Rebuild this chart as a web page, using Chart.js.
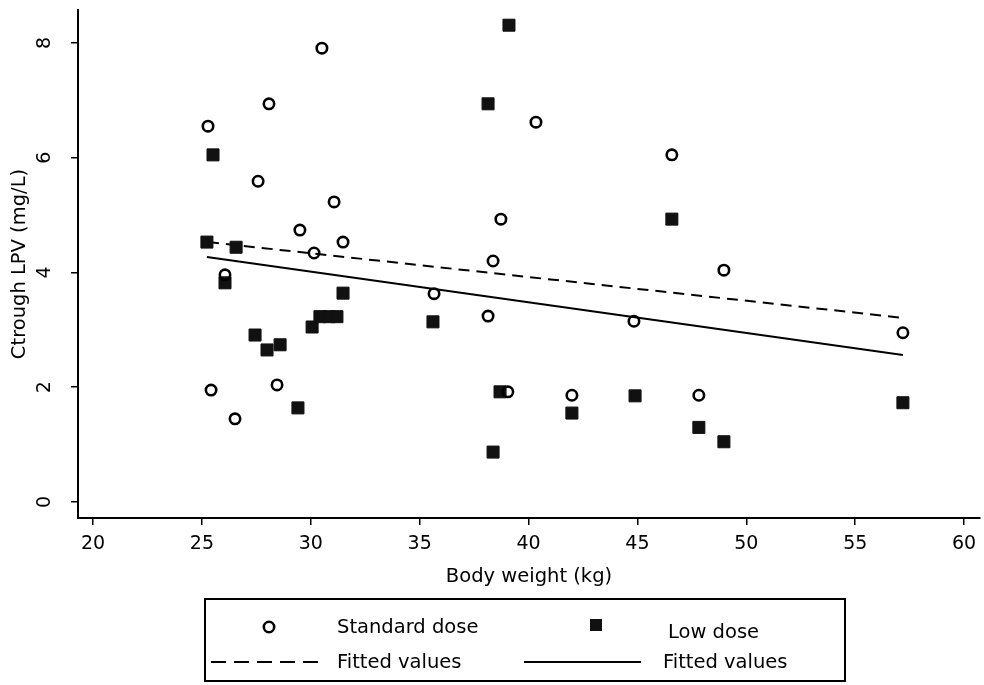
<!DOCTYPE html>
<html><head><meta charset="utf-8">
<script src="https://cdn.jsdelivr.net/npm/chart.js@4/dist/chart.umd.min.js"></script>
<style>html,body{margin:0;padding:0;background:#fff;}canvas{display:block}</style>
</head><body>
<canvas id="c" width="984" height="685"></canvas>
<script>
// ---- data ----
const standardWeight = [25.28, 28.08, 30.51, 40.34, 27.58, 31.07, 46.58, 38.73, 29.5, 31.48, 30.15, 38.37, 48.97, 26.06, 35.66, 38.14, 44.84, 57.19, 25.42, 28.45, 26.52, 39.05, 41.99, 47.82];
const standardLPV    = [6.55, 6.94, 7.91, 6.62, 5.59, 5.23, 6.05, 4.93, 4.74, 4.53, 4.34, 4.2, 4.04, 3.96, 3.63, 3.24, 3.15, 2.95, 1.95, 2.04, 1.45, 1.92, 1.86, 1.86];
const lowWeight = [39.1, 38.14, 25.51, 46.58, 25.23, 26.57, 26.06, 31.48, 27.44, 27.99, 28.59, 30.06, 30.42, 30.84, 31.2, 35.61, 29.41, 38.69, 38.37, 44.89, 41.99, 47.82, 48.97, 57.19];
const lowLPV    = [8.31, 6.94, 6.05, 4.93, 4.53, 4.44, 3.82, 3.64, 2.91, 2.65, 2.74, 3.05, 3.23, 3.23, 3.23, 3.14, 1.64, 1.92, 0.87, 1.85, 1.55, 1.3, 1.05, 1.73];
const fitStandardWeight = [25.28, 57.19];
const fitStandardLPV    = [4.53, 3.21];
const fitLowWeight = [25.23, 57.19];
const fitLowLPV    = [4.27, 2.56];
const xTickValues = [20, 25, 30, 35, 40, 45, 50, 55, 60];
const yTickValues = [0, 2, 4, 6, 8];
const seriesLabels = ['Standard dose', 'Low dose', 'Fitted values', 'Fitted values'];
const xTitle = 'Body weight (kg)';
const yTitle = 'Ctrough LPV (mg/L)';

const pts = (xs, ys) => xs.map((x, i) => ({x: x, y: ys[i]}));
const FONT = 'DejaVu Sans';

const legendPlugin = {
  id: 'stataLegend',
  afterDraw(chart) {
    const ctx = chart.ctx;
    const ds = chart.data.datasets;
    ctx.save();
    ctx.strokeStyle = '#000';
    ctx.lineWidth = 2;
    ctx.strokeRect(205, 599, 640, 82);
    ctx.font = '19.5px "' + FONT + '"';
    ctx.fillStyle = '#000';
    ctx.textBaseline = 'middle';
    ctx.textAlign = 'left';
    // row 1
    ctx.beginPath();
    ctx.lineWidth = ds[0].pointBorderWidth;
    ctx.arc(269, 627, ds[0].pointRadius, 0, Math.PI * 2);
    ctx.stroke();
    ctx.fillText(ds[0].label, 337, 628);
    ctx.fillStyle = ds[1].pointBackgroundColor;
    ctx.fillRect(590, 619, 12, 12);
    ctx.fillStyle = '#000';
    ctx.fillText(ds[1].label, 668, 633);
    // row 2
    ctx.lineWidth = ds[2].borderWidth;
    ctx.setLineDash([15, 8]);
    ctx.beginPath(); ctx.moveTo(211, 662); ctx.lineTo(324, 662); ctx.stroke();
    ctx.setLineDash([]);
    ctx.fillText(ds[2].label, 337, 663);
    ctx.lineWidth = ds[3].borderWidth;
    ctx.beginPath(); ctx.moveTo(524, 662); ctx.lineTo(641, 662); ctx.stroke();
    ctx.fillText(ds[3].label, 663, 663);
    ctx.restore();
  }
};

new Chart(document.getElementById('c'), {
  type: 'scatter',
  data: {
    datasets: [
      { label: seriesLabels[0], data: pts(standardWeight, standardLPV), pointStyle: 'circle', pointRadius: 5.2,
        pointBorderWidth: 2.6, pointBorderColor: '#000', pointBackgroundColor: 'rgba(0,0,0,0)' },
      { label: seriesLabels[1], data: pts(lowWeight, lowLPV), pointStyle: 'rect', pointRadius: 8.5,
        pointBorderWidth: 1, pointBorderColor: '#111', pointBackgroundColor: '#111' },
      { label: seriesLabels[2], data: pts(fitStandardWeight, fitStandardLPV), showLine: true, pointRadius: 0,
        borderColor: '#000', borderWidth: 2, borderDash: [11, 7] },
      { label: seriesLabels[3], data: pts(fitLowWeight, fitLowLPV), showLine: true, pointRadius: 0,
        borderColor: '#000', borderWidth: 2 }
    ]
  },
  options: {
    responsive: false, animation: false, devicePixelRatio: 1, events: [],
    layout: { autoPadding: false, padding: { top: 10, right: 4, bottom: 0, left: 0 } },
    plugins: { legend: { display: false }, tooltip: { enabled: false } },
    scales: {
      x: {
        type: 'linear', min: 19.31, max: 60.73,
        afterBuildTicks: s => { s.ticks = xTickValues.map(v => ({value: v})); },
        afterFit: s => { s.height = 167; s.paddingLeft = 0; s.paddingRight = 0; },
        grid: { display: true, drawOnChartArea: false, drawTicks: true, tickLength: 7, color: '#000', lineWidth: 1.5 },
        border: { display: true, color: '#000', width: 2 },
        ticks: { color: '#000', font: { family: FONT, size: 19 }, padding: 8, maxRotation: 0, minRotation: 0 },
        title: { display: true, text: xTitle, color: '#000', font: { family: FONT, size: 19.5 }, padding: { top: 0, bottom: 96 } }
      },
      y: {
        type: 'linear', min: -0.279, max: 8.575,
        afterBuildTicks: s => { s.ticks = yTickValues.map(v => ({value: v})); },
        afterFit: s => { s.width = 78; s.paddingTop = 0; s.paddingBottom = 0; },
        grid: { display: true, drawOnChartArea: false, drawTicks: true, tickLength: 7, color: '#000', lineWidth: 1.5 },
        border: { display: true, color: '#000', width: 2 },
        ticks: { color: '#000', font: { family: FONT, size: 19 }, padding: 20, minRotation: 90, maxRotation: 90, crossAlign: 'center' },
        title: { display: true, text: yTitle, color: '#000', font: { family: FONT, size: 19.5 }, padding: { top: 8, bottom: 0 } }
      }
    }
  },
  plugins: [legendPlugin]
});
</script>
</body></html>
